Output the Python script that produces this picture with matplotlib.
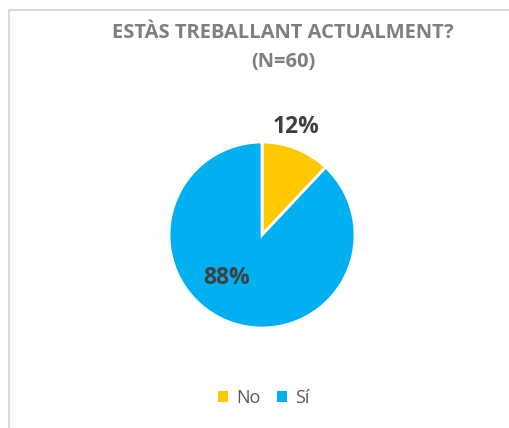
import numpy as np
import matplotlib.pyplot as plt
from matplotlib.lines import Line2D
from matplotlib.patches import Patch

categories = ["No", "Sí"]
values = [12, 88]
colors = ["#FFC800", "#00B0F0"]
title = "ESTÀS TREBALLANT ACTUALMENT?\n(N=60)"

plt.rcParams['font.family'] = ['Open Sans', 'DejaVu Sans']

W, H = 510, 428
fig = plt.figure(figsize=(W / 100, H / 100), dpi=100)

# chart border (top and left only visible)
fig.add_artist(Line2D([9 / W, 1], [1 - 10 / H, 1 - 10 / H], color="#D9D9D9", lw=1.5))
fig.add_artist(Line2D([9 / W, 9 / W], [0, 1 - 10 / H], color="#D9D9D9", lw=1.5))

# pie axes: centre (262, 235) px, radius 93 px
cx, cy, r = 262, 235, 93
ax = fig.add_axes([(cx - r) / W, (H - cy - r) / H, 2 * r / W, 2 * r / H])
wedges, _ = ax.pie(values, colors=colors, startangle=90, counterclock=False,
                   wedgeprops=dict(edgecolor="white", linewidth=2))
ax.set_xlim(-1, 1)
ax.set_ylim(-1, 1)
ax.set_aspect("auto")

# data labels: (distance, angle offset in degrees) per wedge
label_pos = [(1.22, 4), (0.6, -18)]
for w, v, (d, off) in zip(wedges, values, label_pos):
    ang = np.deg2rad((w.theta1 + w.theta2) / 2 + off)
    ax.text(d * np.cos(ang), d * np.sin(ang), f"{v}%", ha="center", va="center",
            fontsize=16.5, fontweight="bold", color="#404040")

fig.text(283 / W, 1 - 48 / H, title, ha="center", va="center", fontsize=14.5,
         fontweight="bold", color="#7F7F7F", linespacing=1.6)

handles = [Patch(facecolor=c, edgecolor="none") for c in colors]
fig.legend(handles, categories, loc="center", bbox_to_anchor=(264 / W, 1 - 398 / H),
           ncol=2, frameon=False, fontsize=13, labelcolor="#595959",
           handlelength=0.55, handleheight=0.55, handletextpad=0.45, columnspacing=0.9)

fig.savefig("out.png", dpi=100)
